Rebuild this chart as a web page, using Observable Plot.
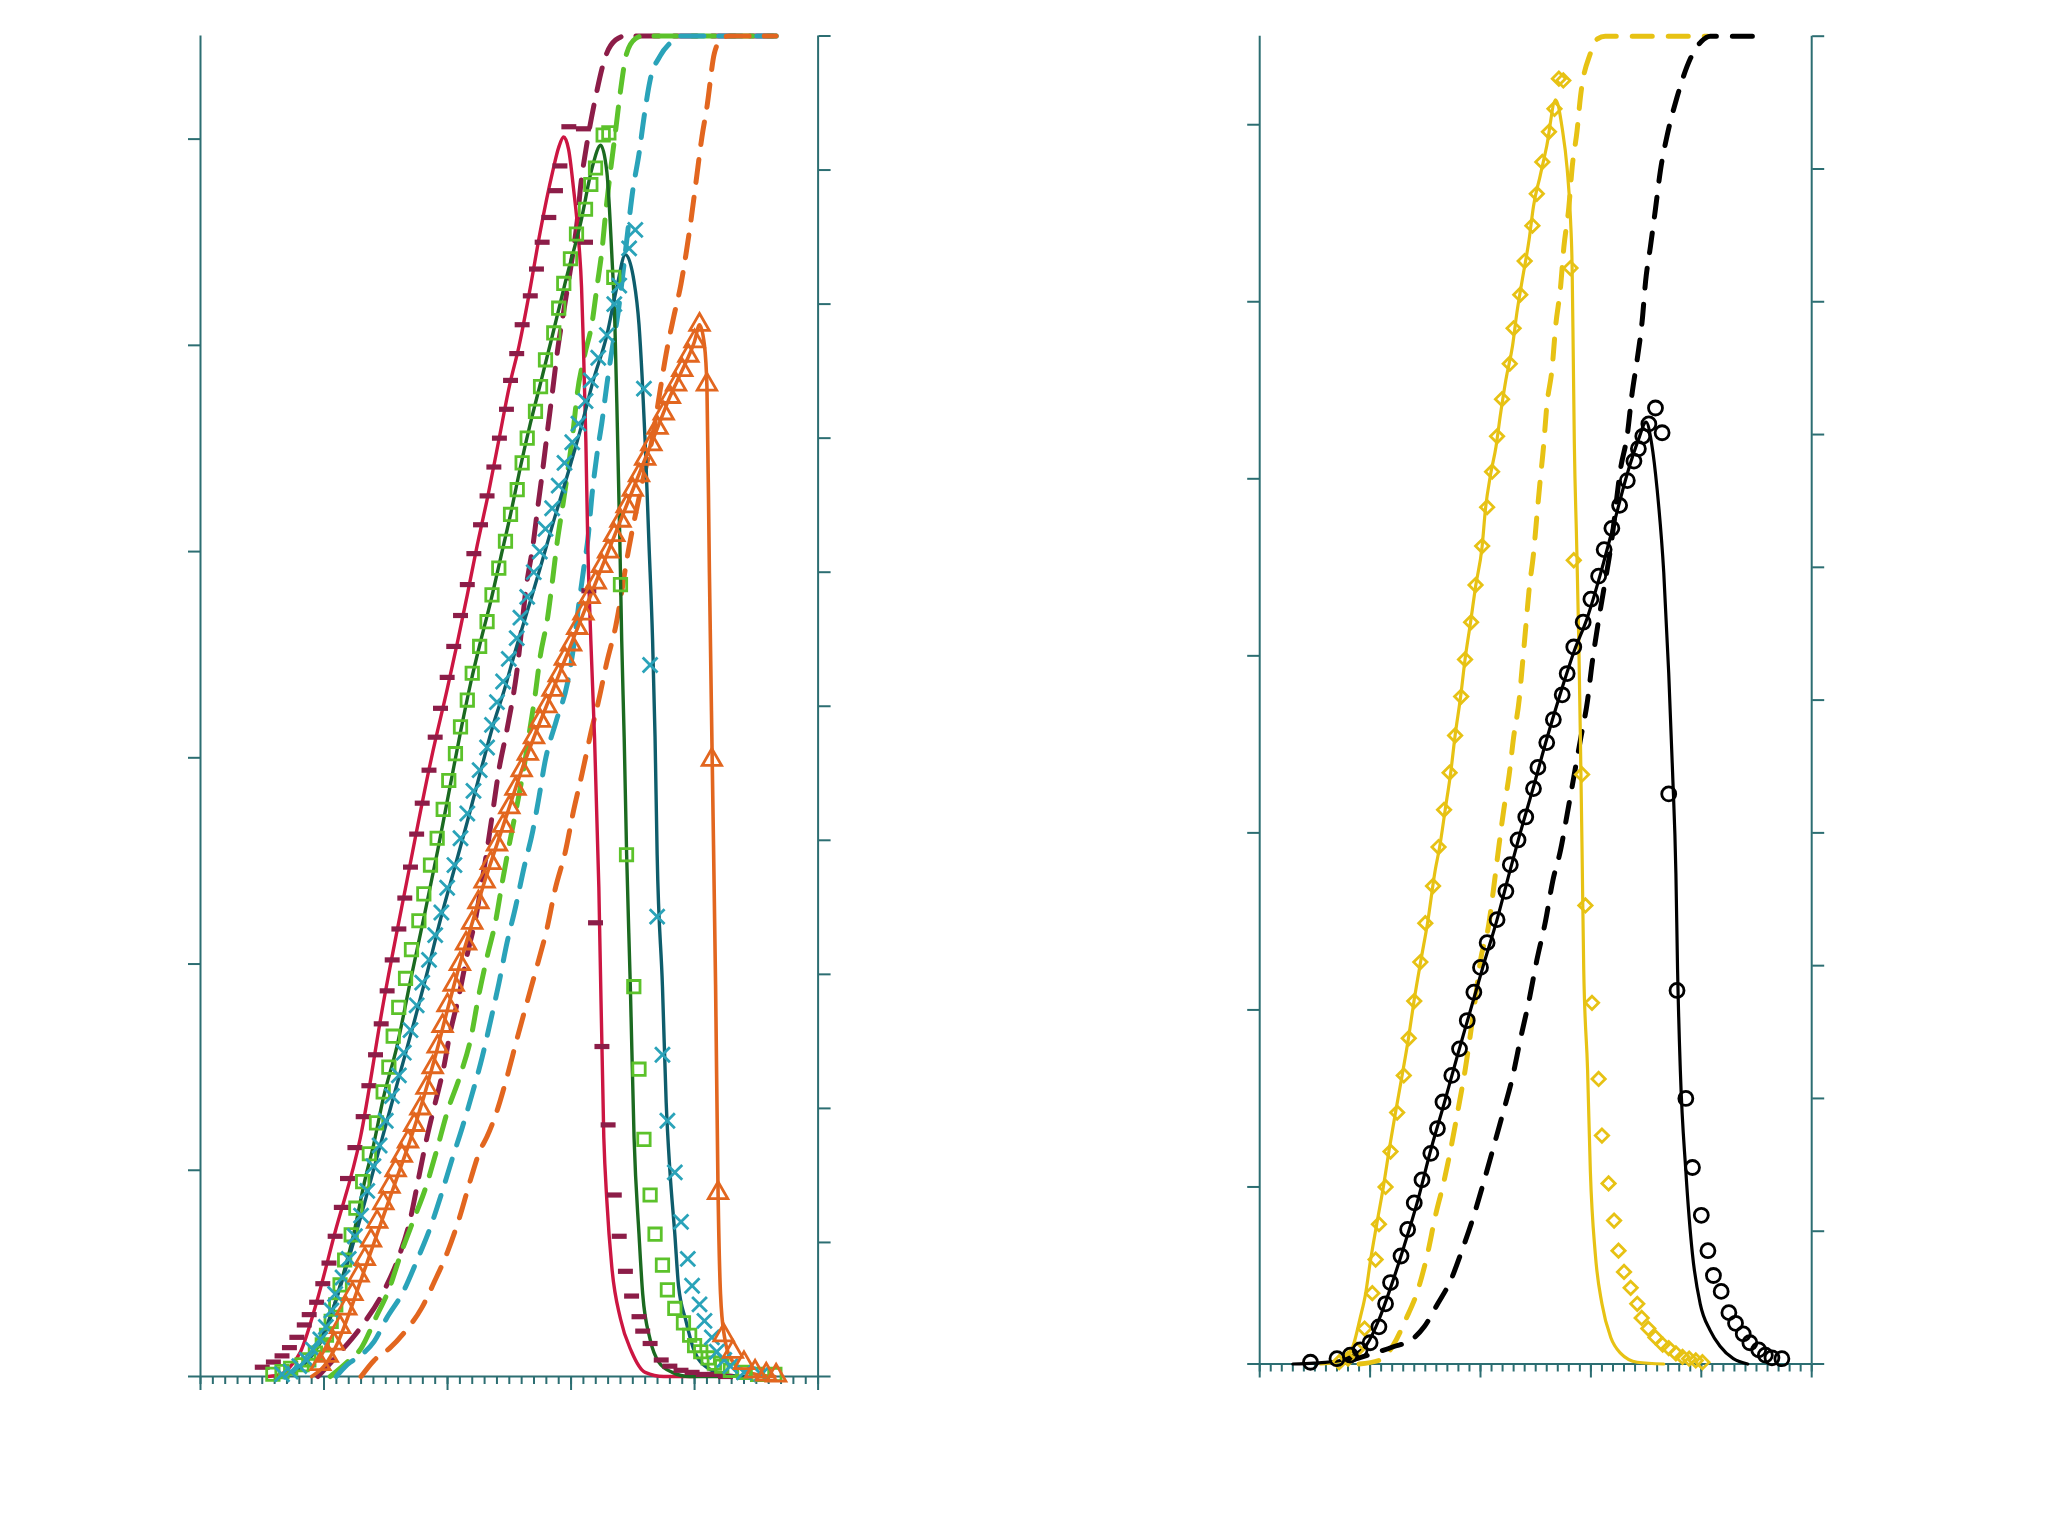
<!DOCTYPE html>
<html>
<head>
<meta charset="utf-8">
<script src="https://cdn.jsdelivr.net/npm/d3@7"></script>
<script src="https://cdn.jsdelivr.net/npm/@observablehq/plot@0.6"></script>
<style>
  html, body { margin: 0; padding: 0; background: #fff; }
  #wrap { position: relative; width: 2061px; height: 1515px; overflow: hidden; background: #fff; }
  #left, #right { position: absolute; top: 0; }
  #left { left: 0; }
  #right { left: 1030px; }
</style>
</head>
<body>
<div id="wrap"><div id="left"></div><div id="right"></div></div>
<script>
// ---------------- shared axis settings ----------------
const xDomain = [0, 50];
const xMinorTicks = d3.range(0, 51, 1);
const xMajorTicks = [0, 10, 20, 30, 40, 50];
const cumTicks = [0, 0.1, 0.2, 0.3, 0.4, 0.5, 0.6, 0.7, 0.8, 0.9, 1.0];

// ---------------- LEFT PANEL ----------------
const leftYMax = 6.5;
const leftYTicks = [0, 1, 2, 3, 4, 5, 6];

// crimson model line / maroon data / maroon cumulative
const crimsonModel = [[5.5,0],[6.5,0.01],[7.3,0.05],[8.1,0.12],[9.4,0.36],[10.85,0.69],[12.95,1.16],[14.8,1.81],[16.7,2.4],[18.7,3.0],[20.0,3.34],[20.8,3.56],[21.6,3.79],[22.4,4.03],[23.3,4.28],[24.15,4.54],[25.0,4.8],[25.8,5.0],[26.7,5.28],[27.5,5.55],[28.5,5.84],[29.0,5.96],[29.4,6.01],[29.8,5.95],[30.2,5.76],[30.6,5.52],[30.85,5.28],[31.0,5.0],[31.2,4.53],[31.35,4.05],[31.6,3.57],[31.9,3.1],[32.25,2.37],[32.65,1.16],[32.9,0.85],[33.3,0.53],[34.0,0.28],[34.9,0.12],[36.0,0.02],[37.5,0],[40.0,0]];
const maroonData = [[5.0,0.045],[5.9,0.07],[6.6,0.10],[7.2,0.14],[7.8,0.19],[8.4,0.25],[8.8,0.30],[9.4,0.36],[9.9,0.45],[10.4,0.55],[10.9,0.68],[11.4,0.82],[11.9,0.96],[12.5,1.11],[13.17,1.26],[13.63,1.41],[14.17,1.56],[14.63,1.71],[15.11,1.87],[15.52,2.02],[16.06,2.17],[16.54,2.32],[17.0,2.47],[17.5,2.63],[17.95,2.78],[18.5,2.94],[19.0,3.10],[19.43,3.24],[19.97,3.39],[20.5,3.54],[21.05,3.69],[21.6,3.84],[22.13,3.99],[22.67,4.13],[23.2,4.27],[23.75,4.41],[24.2,4.55],[24.77,4.69],[25.1,4.83],[25.6,4.96],[26.04,5.1],[26.7,5.24],[27.2,5.37],[27.66,5.5],[28.2,5.62],[28.74,5.75],[29.1,5.87],[29.82,6.06],[31.0,6.05],[31.17,5.5],[31.44,3.81],[31.98,2.2],[32.5,1.6],[33.0,1.22],[33.5,0.88],[33.9,0.68],[34.4,0.51],[34.9,0.39],[35.5,0.29],[35.8,0.22],[36.4,0.16],[37.3,0.08],[38.0,0.05],[38.9,0.03],[39.8,0.02],[40.7,0.01],[41.6,0.01],[42.5,0.0]];
const maroonCum = [[9.5,0],[11.1,0.016],[13.0,0.037],[14.8,0.063],[16.0,0.088],[17.0,0.118],[17.7,0.15],[18.35,0.179],[19.0,0.204],[19.7,0.231],[20.2,0.256],[20.9,0.283],[21.6,0.315],[22.3,0.343],[22.8,0.37],[23.3,0.399],[23.75,0.427],[24.15,0.452],[24.8,0.482],[25.6,0.525],[26.4,0.591],[26.9,0.619],[27.3,0.648],[27.7,0.676],[28.1,0.706],[28.5,0.735],[28.9,0.765],[29.5,0.80],[30.1,0.835],[30.5,0.862],[30.8,0.89],[31.2,0.915],[32.0,0.955],[32.8,0.985],[33.6,0.997],[34.4,1.0],[46.6,1.0]];

// green model line / squares / cumulative
const greenModel = [[6.5,0],[8.0,0.04],[9.0,0.1],[10.0,0.2],[11.3,0.44],[12.4,0.69],[13.3,0.95],[14.0,1.12],[14.8,1.35],[15.9,1.6],[17.0,1.92],[18.1,2.23],[19.2,2.55],[20.2,2.86],[21.1,3.14],[21.9,3.37],[22.7,3.57],[23.5,3.76],[24.3,3.97],[25.1,4.18],[25.9,4.41],[26.7,4.62],[27.5,4.81],[28.5,5.05],[29.55,5.31],[30.8,5.6],[31.7,5.86],[32.4,5.97],[32.9,5.84],[33.3,5.44],[33.55,5.1],[33.75,4.6],[33.95,4.05],[34.1,3.57],[34.3,3.1],[34.5,2.53],[34.8,1.89],[35.1,1.16],[35.5,0.69],[35.8,0.4],[36.4,0.18],[37.1,0.07],[38.2,0.02],[39.6,0],[42.0,0]];
const greenData = [[5.86,0.011],[6.6,0.024],[7.3,0.04],[8.22,0.057],[8.77,0.081],[9.3,0.113],[9.86,0.153],[10.2,0.2],[10.58,0.267],[10.95,0.347],[11.3,0.444],[11.67,0.565],[12.2,0.687],[12.58,0.816],[13.13,0.945],[13.67,1.08],[14.25,1.23],[14.79,1.38],[15.25,1.50],[15.6,1.65],[16.05,1.79],[16.6,1.93],[17.08,2.07],[17.68,2.21],[18.08,2.34],[18.62,2.48],[19.16,2.61],[19.65,2.75],[20.1,2.89],[20.64,3.02],[21.05,3.15],[21.6,3.28],[22.0,3.41],[22.6,3.54],[23.2,3.66],[23.6,3.79],[24.15,3.92],[24.69,4.05],[25.1,4.18],[25.64,4.30],[26.04,4.43],[26.45,4.55],[27.12,4.68],[27.53,4.80],[27.93,4.93],[28.6,5.06],[29.0,5.18],[29.41,5.30],[29.95,5.42],[30.44,5.54],[31.17,5.66],[31.6,5.78],[31.98,5.86],[32.6,6.02],[33.06,6.03],[33.46,5.33],[34.0,3.84],[34.49,2.53],[35.08,1.89],[35.5,1.49],[35.9,1.15],[36.4,0.88],[36.8,0.69],[37.4,0.54],[37.8,0.42],[38.4,0.33],[39.1,0.26],[39.6,0.2],[40.0,0.15],[40.5,0.12],[41.1,0.09],[41.6,0.065],[42.2,0.05],[42.9,0.03],[44.0,0.02],[45.1,0.01],[46.5,0.01]];
const greenCum = [[10.5,0],[11.9,0.011],[13.0,0.021],[14.2,0.044],[15.3,0.066],[16.2,0.091],[17.3,0.118],[18.2,0.14],[19.1,0.168],[20.0,0.198],[21.0,0.224],[21.9,0.253],[22.5,0.283],[23.2,0.313],[23.9,0.34],[24.4,0.367],[25.0,0.397],[25.6,0.425],[26.2,0.455],[26.6,0.479],[27.1,0.509],[27.5,0.537],[28.1,0.566],[28.5,0.594],[28.9,0.624],[29.3,0.648],[29.7,0.673],[30.2,0.708],[30.5,0.733],[31.1,0.762],[31.7,0.786],[32.1,0.813],[32.5,0.84],[32.8,0.868],[33.2,0.9],[33.6,0.929],[34.0,0.959],[34.5,0.987],[35.2,0.998],[35.8,1.0],[46.6,1.0]];

// teal model line / crosses / cumulative
const tealModel = [[6.5,0],[8.0,0.04],[9.5,0.15],[10.8,0.34],[12.0,0.57],[13.0,0.78],[14.0,1.0],[15.1,1.24],[16.2,1.48],[17.3,1.72],[18.4,1.97],[19.4,2.21],[20.5,2.45],[21.6,2.69],[22.7,2.94],[23.7,3.16],[24.6,3.33],[25.4,3.5],[26.4,3.7],[27.5,3.92],[28.6,4.15],[29.7,4.37],[30.8,4.6],[31.8,4.83],[32.9,5.05],[33.7,5.28],[34.4,5.44],[35.1,5.31],[35.5,5.1],[35.75,4.85],[36.0,4.53],[36.3,4.05],[36.6,3.57],[36.8,3.1],[36.97,2.53],[37.4,1.89],[37.7,1.33],[38.0,1.0],[38.4,0.69],[38.7,0.44],[39.3,0.27],[40.0,0.12],[41.1,0.04],[42.5,0.01],[44.0,0]];
const tealData = [[6.6,0.011],[7.3,0.024],[8.0,0.05],[8.6,0.08],[9.1,0.13],[9.7,0.18],[10.15,0.24],[10.6,0.32],[10.9,0.40],[11.5,0.48],[12.0,0.57],[12.5,0.68],[13.0,0.78],[13.5,0.90],[14.0,1.02],[14.5,1.12],[15.0,1.24],[15.5,1.36],[16.06,1.46],[16.46,1.57],[17.0,1.68],[17.5,1.80],[17.95,1.91],[18.5,2.02],[19.0,2.14],[19.5,2.25],[19.97,2.37],[20.56,2.48],[21.05,2.61],[21.6,2.73],[22.1,2.84],[22.6,2.94],[23.2,3.05],[23.6,3.16],[24.0,3.27],[24.5,3.37],[24.96,3.48],[25.6,3.58],[25.9,3.68],[26.45,3.78],[26.98,3.9],[27.47,4.0],[27.93,4.11],[28.47,4.21],[29.0,4.32],[29.47,4.43],[30.1,4.53],[30.6,4.62],[31.17,4.73],[31.6,4.83],[32.2,4.94],[32.9,5.05],[33.5,5.2],[33.9,5.29],[34.7,5.47],[35.2,5.56],[35.9,4.79],[36.4,3.45],[36.97,2.23],[37.4,1.56],[37.8,1.24],[38.4,0.99],[38.9,0.75],[39.45,0.57],[39.8,0.44],[40.4,0.35],[40.8,0.27],[41.4,0.19],[41.8,0.12],[42.4,0.08],[42.9,0.05],[44.0,0.02],[45.4,0.01]];
const tealCum = [[11.0,0],[11.9,0.009],[13.0,0.016],[14.05,0.026],[15.1,0.044],[16.4,0.063],[17.5,0.086],[18.6,0.111],[19.5,0.136],[20.4,0.163],[21.2,0.186],[22.0,0.211],[22.8,0.238],[23.5,0.266],[24.15,0.293],[24.8,0.323],[25.5,0.35],[26.2,0.38],[26.9,0.407],[27.4,0.432],[27.9,0.459],[28.8,0.489],[29.7,0.517],[30.2,0.544],[30.6,0.574],[31.0,0.601],[31.4,0.628],[31.7,0.658],[32.1,0.688],[32.5,0.712],[32.9,0.74],[33.3,0.765],[33.8,0.793],[34.2,0.823],[34.6,0.855],[35.0,0.885],[35.5,0.912],[35.9,0.939],[36.4,0.967],[37.2,0.985],[38.05,0.995],[38.8,1.0],[46.6,1.0]];

// orange model line / triangles / cumulative
const orangeModel = [[9.0,0],[10.0,0.05],[11.0,0.15],[12.0,0.3],[13.0,0.47],[14.0,0.64],[15.0,0.81],[16.0,0.98],[17.0,1.15],[18.0,1.34],[19.0,1.55],[20.0,1.78],[21.0,2.0],[22.0,2.2],[23.0,2.4],[24.0,2.58],[25.0,2.76],[26.0,2.94],[27.0,3.1],[28.0,3.25],[29.0,3.4],[30.0,3.55],[31.0,3.7],[32.0,3.85],[33.0,4.0],[34.0,4.15],[35.0,4.3],[36.0,4.45],[37.0,4.6],[38.0,4.75],[39.0,4.88],[40.0,5.02],[40.4,5.1],[40.8,5.0],[41.0,4.8],[41.2,3.9],[41.45,2.9],[41.7,1.9],[41.9,0.9],[42.1,0.4],[42.4,0.2],[43.0,0.08],[44.0,0.03],[45.0,0.01],[46.5,0]];
const orangeData = [[9.7,0.06],[10.3,0.1],[10.8,0.16],[11.3,0.24],[11.8,0.33],[12.3,0.4],[12.8,0.49],[13.3,0.57],[13.8,0.66],[14.3,0.75],[14.8,0.84],[15.3,0.92],[15.8,1.0],[16.3,1.07],[16.8,1.14],[17.3,1.22],[17.8,1.3],[18.3,1.4],[18.8,1.5],[19.2,1.6],[19.6,1.7],[20.0,1.8],[20.5,1.9],[21.0,2.0],[21.5,2.1],[22.0,2.2],[22.5,2.3],[23.0,2.4],[23.5,2.49],[24.0,2.58],[24.5,2.67],[25.0,2.76],[25.5,2.85],[26.0,2.94],[26.5,3.02],[27.0,3.1],[27.5,3.18],[28.0,3.25],[28.5,3.33],[29.0,3.4],[29.5,3.48],[30.0,3.55],[30.5,3.63],[31.0,3.7],[31.5,3.78],[32.0,3.85],[32.5,3.93],[33.0,4.0],[33.5,4.08],[34.0,4.15],[34.5,4.22],[35.0,4.3],[35.5,4.37],[36.0,4.45],[36.5,4.52],[37.0,4.6],[37.5,4.67],[38.0,4.75],[38.5,4.81],[39.0,4.88],[39.5,4.95],[40.0,5.02],[40.4,5.1],[41.0,4.81],[41.4,2.99],[41.9,0.89],[42.35,0.2],[43.1,0.12],[44.0,0.065],[44.9,0.024],[45.8,0.01],[46.6,0.005]];
const orangeCum = [[13.0,0],[14.05,0.012],[15.3,0.021],[16.6,0.034],[17.9,0.051],[18.95,0.071],[20.0,0.093],[20.95,0.118],[21.9,0.148],[22.6,0.168],[23.2,0.179],[24.0,0.198],[24.8,0.223],[25.6,0.251],[26.4,0.278],[27.3,0.308],[28.07,0.335],[28.7,0.363],[29.55,0.392],[30.2,0.422],[30.9,0.45],[31.6,0.48],[32.25,0.505],[32.9,0.533],[33.6,0.559],[34.7,0.619],[35.7,0.664],[36.7,0.706],[37.2,0.735],[37.7,0.763],[38.3,0.79],[38.9,0.815],[39.3,0.837],[39.7,0.862],[40.1,0.89],[40.6,0.925],[41.0,0.947],[41.6,0.987],[42.2,0.998],[42.8,1.0],[46.6,1.0]];

// ---------------- RIGHT PANEL ----------------
const rightYMax = 7.5;
const rightYTicks = [0, 1, 2, 3, 4, 5, 6, 7];

const yellowModel = [[5.5,0],[7.0,0.01],[7.9,0.04],[8.5,0.11],[9.1,0.26],[9.6,0.40],[10.0,0.57],[10.6,0.79],[11.2,1.0],[11.7,1.2],[12.3,1.42],[12.9,1.63],[13.5,1.85],[14.0,2.06],[14.6,2.28],[15.2,2.49],[15.9,2.79],[16.3,2.92],[16.8,3.13],[17.3,3.34],[17.7,3.55],[18.2,3.77],[18.6,3.98],[19.1,4.19],[19.55,4.39],[20.15,4.62],[20.45,4.83],[20.9,5.02],[21.4,5.18],[21.8,5.36],[22.3,5.56],[22.9,5.75],[23.3,5.94],[23.8,6.13],[24.4,6.35],[24.8,6.54],[25.4,6.71],[26.0,6.88],[26.8,7.14],[27.4,6.98],[27.85,6.75],[28.15,6.47],[28.3,6.19],[28.4,5.71],[28.5,5.2],[28.7,4.66],[28.9,4.09],[29.05,3.53],[29.2,2.9],[29.35,2.23],[29.7,1.66],[29.95,1.09],[30.4,0.62],[31.0,0.34],[31.8,0.15],[32.7,0.06],[34.2,0.01],[36.6,0]];
const yellowData = [[7.2,0.01],[8.0,0.03],[8.8,0.08],[9.5,0.2],[10.2,0.40],[10.5,0.59],[10.8,0.79],[11.4,1.0],[11.85,1.2],[12.45,1.42],[13.05,1.63],[13.5,1.84],[14.0,2.05],[14.55,2.27],[15.0,2.49],[15.7,2.7],[16.2,2.92],[16.7,3.13],[17.2,3.34],[17.7,3.55],[18.25,3.77],[18.6,3.98],[19.15,4.19],[19.55,4.40],[20.15,4.62],[20.6,4.84],[21.05,5.04],[21.5,5.24],[21.95,5.45],[22.65,5.65],[23.0,5.85],[23.6,6.04],[24.0,6.23],[24.7,6.43],[25.1,6.61],[25.6,6.79],[26.2,6.96],[26.7,7.09],[27.1,7.26],[27.5,7.25],[28.15,6.19],[28.45,4.54],[29.2,3.33],[29.5,2.59],[30.1,2.04],[30.7,1.61],[31.0,1.29],[31.6,1.02],[32.1,0.81],[32.5,0.64],[33.0,0.52],[33.6,0.43],[34.2,0.34],[34.6,0.26],[35.2,0.2],[35.85,0.15],[36.5,0.11],[37.05,0.09],[37.7,0.06],[38.3,0.04],[38.9,0.03],[39.5,0.02],[40.1,0.01]];
const yellowCum = [[9.0,0],[10.9,0.003],[12.15,0.015],[13.2,0.033],[14.3,0.055],[15.2,0.083],[15.9,0.111],[16.7,0.138],[17.4,0.166],[18.0,0.193],[18.6,0.221],[19.1,0.249],[19.55,0.276],[20.0,0.304],[20.75,0.331],[21.2,0.359],[21.65,0.389],[22.1,0.417],[22.6,0.444],[23.0,0.472],[23.5,0.5],[23.8,0.527],[24.1,0.555],[24.4,0.583],[24.8,0.61],[25.1,0.638],[25.4,0.665],[25.7,0.69],[26.0,0.721],[26.5,0.751],[26.8,0.781],[27.25,0.811],[27.55,0.841],[28.0,0.871],[28.3,0.901],[28.75,0.929],[29.05,0.954],[29.95,0.987],[30.6,0.998],[31.3,1.0],[40.6,1.0]];

const blackModel = [[3.0,0],[4.9,0.005],[7.3,0.02],[8.5,0.05],[9.7,0.11],[10.8,0.25],[11.85,0.43],[13.05,0.66],[14.3,0.92],[15.5,1.21],[16.7,1.47],[17.9,1.74],[19.1,2.0],[20.3,2.26],[21.5,2.51],[22.6,2.77],[23.6,3.0],[24.8,3.26],[26.0,3.53],[27.25,3.79],[28.45,4.02],[29.7,4.22],[30.9,4.47],[32.1,4.75],[33.3,5.03],[34.3,5.22],[35.0,5.32],[35.5,5.2],[36.0,4.94],[36.6,4.47],[37.05,3.9],[37.4,3.34],[37.7,2.77],[37.85,2.23],[38.1,1.66],[38.6,1.09],[39.2,0.62],[39.9,0.34],[40.8,0.19],[41.7,0.1],[42.9,0.03],[44.2,0]];
const blackData = [[4.6,0.01],[7.0,0.03],[8.2,0.05],[9.1,0.08],[10.0,0.12],[10.8,0.21],[11.4,0.34],[11.85,0.46],[12.8,0.61],[13.4,0.76],[14.0,0.91],[14.7,1.04],[15.5,1.19],[16.1,1.33],[16.6,1.48],[17.4,1.63],[18.1,1.78],[18.8,1.94],[19.4,2.10],[20.0,2.24],[20.6,2.38],[21.5,2.51],[22.3,2.67],[22.7,2.82],[23.4,2.96],[24.1,3.09],[24.8,3.25],[25.2,3.37],[26.0,3.51],[26.6,3.64],[27.4,3.78],[27.85,3.9],[28.45,4.05],[29.3,4.19],[30.0,4.32],[30.7,4.45],[31.2,4.6],[31.9,4.72],[32.6,4.85],[33.3,4.99],[33.9,5.1],[34.3,5.17],[34.7,5.24],[35.25,5.31],[35.85,5.4],[36.45,5.26],[37.05,3.22],[37.8,2.11],[38.6,1.5],[39.2,1.11],[40.0,0.84],[40.6,0.64],[41.1,0.50],[41.8,0.41],[42.5,0.29],[43.1,0.23],[43.8,0.17],[44.4,0.12],[45.2,0.08],[45.8,0.05],[46.4,0.035],[47.3,0.03]];
const blackCum = [[8.0,0.002],[12.1,0.013],[13.7,0.018],[14.9,0.028],[16.1,0.045],[17.3,0.063],[18.3,0.085],[19.25,0.108],[20.15,0.133],[21.1,0.161],[22.0,0.188],[22.9,0.216],[23.6,0.244],[24.4,0.274],[25.1,0.304],[25.9,0.334],[26.55,0.364],[27.25,0.387],[27.85,0.414],[28.45,0.442],[29.05,0.47],[29.7,0.5],[30.1,0.527],[30.6,0.555],[31.2,0.585],[31.8,0.615],[32.7,0.675],[33.3,0.7],[33.7,0.729],[34.2,0.757],[34.65,0.786],[34.95,0.815],[35.4,0.842],[35.85,0.87],[36.3,0.899],[36.9,0.925],[37.8,0.954],[39.0,0.983],[40.0,0.996],[40.8,1.0],[45.8,1.0]];

// ---------------- styles ----------------
const AX = "#2c6e72";
const C = {
  crimson: "#cc1642", maroon: "#8c1d48",
  darkGreen: "#1b6a20", lightGreen: "#5cc22b",
  darkTeal: "#0e5d6c", teal: "#2aa3b9",
  orange: "#e2661f",
  yellow: "#e7c214", black: "#000000"
};
const dashSymbol = {
  draw(ctx, size) {
    const r = Math.sqrt(size / Math.PI);
    ctx.rect(-r * 1.15, -r * 0.4, r * 2.3, r * 0.8);
  }
};
const X = d => d[0];
const Y = d => d[1];

function axes(yTicks, yMax) {
  const common = {tickFormat: () => "", fill: "none", label: null, stroke: AX, strokeWidth: 2};
  return [
    Plot.ruleX([0, 50], {stroke: AX, strokeWidth: 2}),
    Plot.ruleY([0], {stroke: AX, strokeWidth: 2}),
    Plot.axisY(yTicks, {anchor: "left", tickSize: 12, ...common}),
    Plot.axisY(cumTicks.map(t => t * yMax), {anchor: "right", tickSize: 12, ...common}),
    Plot.axisX(xMinorTicks, {anchor: "bottom", tickSize: 8, ...common}),
    Plot.axisX(xMajorTicks, {anchor: "bottom", tickSize: 14, ...common})
  ];
}
function model(data, color, w = 3.4) {
  return Plot.line(data, {x: X, y: Y, stroke: color, strokeWidth: w, curve: "monotone-x"});
}
function cum(data, color, yMax, dash = "23,15") {
  return Plot.line(data, {x: X, y: d => d[1] * yMax, stroke: color, strokeWidth: 5, strokeDasharray: dash, curve: "monotone-x"});
}
function pts(data, color, symbol, r, extra = {}) {
  return Plot.dot(data, {x: X, y: Y, symbol, r, stroke: color, strokeWidth: 2.8, fill: "none", ...extra});
}

const leftPlot = Plot.plot({
  width: 1030, height: 1515,
  marginLeft: 200, marginRight: 212.4, marginTop: 35.5, marginBottom: 139,
  x: {domain: xDomain, axis: null},
  y: {domain: [0, leftYMax], axis: null},
  style: {background: "transparent", overflow: "visible"},
  marks: [
    ...axes(leftYTicks, leftYMax),
    cum(maroonCum, C.maroon, leftYMax),
    cum(greenCum, C.lightGreen, leftYMax),
    cum(tealCum, C.teal, leftYMax),
    cum(orangeCum, C.orange, leftYMax),
    model(crimsonModel, C.crimson),
    model(greenModel, C.darkGreen),
    model(tealModel, C.darkTeal),
    model(orangeModel, C.orange, 3.6),
    pts(maroonData, C.maroon, dashSymbol, 6.5, {fill: C.maroon, stroke: "none"}),
    pts(greenData, C.lightGreen, "square", 7),
    pts(tealData, C.teal, "times", 6.8),
    pts(orangeData, C.orange, "triangle", 7.2)
  ]
});
document.getElementById("left").appendChild(leftPlot);

const rightPlot = Plot.plot({
  width: 1031, height: 1515,
  marginLeft: 229.2, marginRight: 249.8, marginTop: 35.7, marginBottom: 151.5,
  x: {domain: xDomain, axis: null},
  y: {domain: [0, rightYMax], axis: null},
  style: {background: "transparent", overflow: "visible"},
  marks: [
    ...axes(rightYTicks, rightYMax),
    cum(yellowCum, C.yellow, rightYMax, "20,16"),
    cum(blackCum, C.black, rightYMax, "20,16"),
    model(yellowModel, C.yellow, 3.2),
    model(blackModel, C.black, 3.2),
    pts(yellowData, C.yellow, "diamond2", 6),
    pts(blackData, C.black, "circle", 7)
  ]
});
document.getElementById("right").appendChild(rightPlot);
</script>
</body>
</html>
